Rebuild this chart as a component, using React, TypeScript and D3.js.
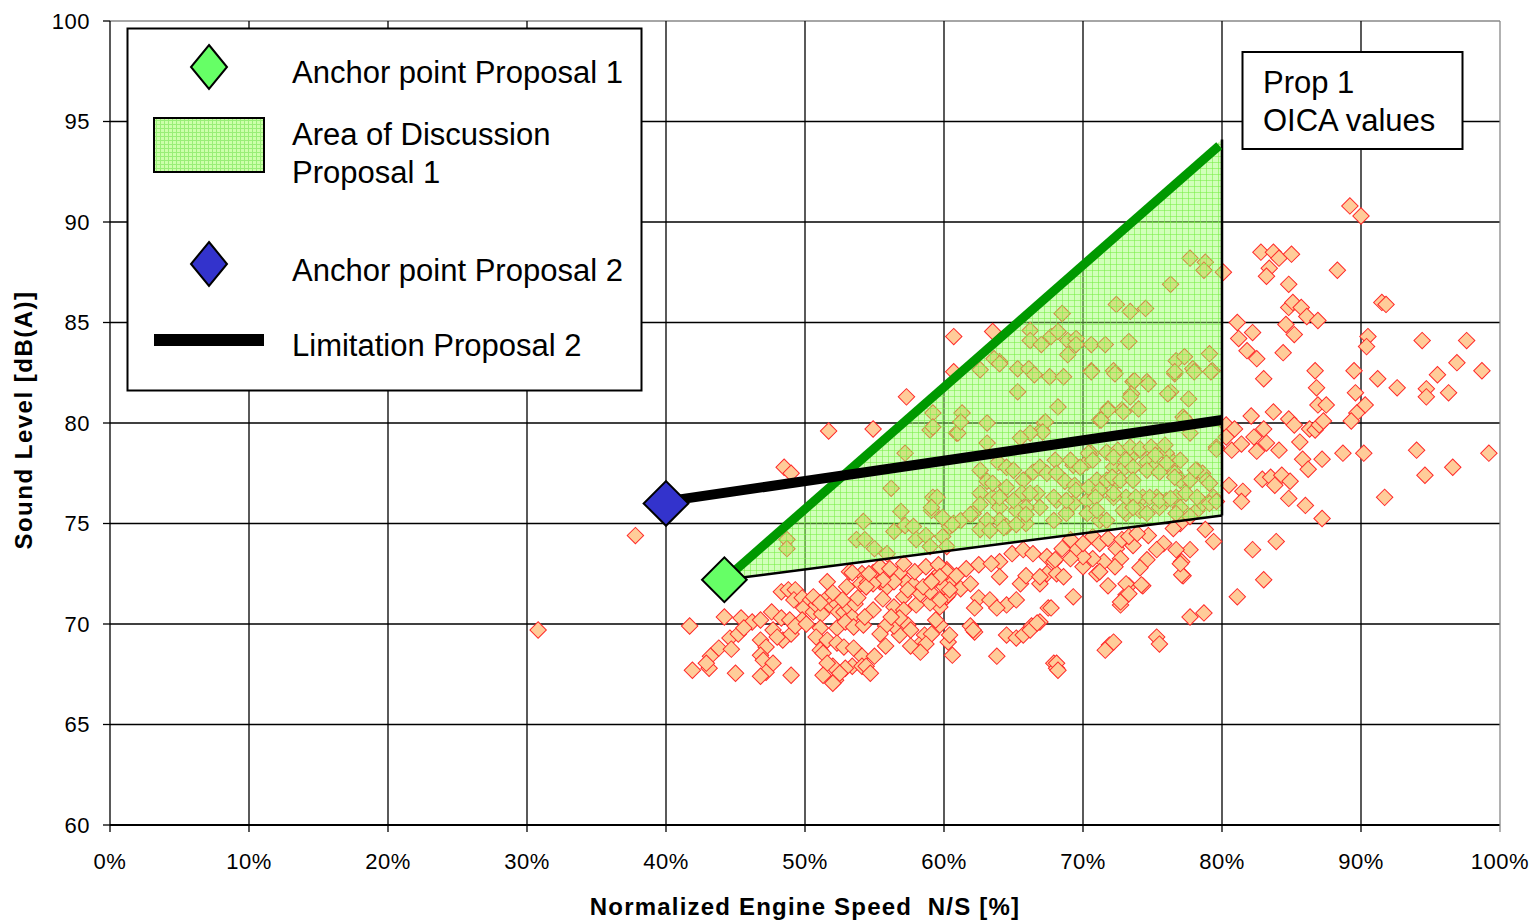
import React from "react";
import * as d3 from "d3";

type P = [number, number];

const xTicks = [0, 10, 20, 30, 40, 50, 60, 70, 80, 90, 100];
const yTicks = [60, 65, 70, 75, 80, 85, 90, 95, 100];

// Prop 1 OICA values: [N/S %, dB(A)]
const oicaLeft: P[] = [
  [30.8, 69.7], [37.8, 74.4], [41.7, 69.9], [41.9, 67.7], [43.1, 67.8], [45.0, 67.55], [44.2, 70.35], [45.4, 70.3],
  [46.2, 70.1], [46.8, 70.2], [47.6, 70.6], [48.3, 70.3], [48.9, 70.2], [44.6, 69.3], [45.2, 69.5], [45.6, 69.8],
  [43.8, 68.8], [43.2, 68.4], [42.9, 68.05], [44.7, 68.75], [46.8, 69.2], [47.2, 68.85], [46.8, 68.45], [47.0, 68.2],
  [47.7, 69.7], [48.4, 69.2], [49.0, 69.5], [48.0, 69.35], [47.7, 68.05], [47.2, 67.6], [46.8, 67.4], [49.0, 67.45],
  [48.3, 71.6], [48.8, 71.7], [49.3, 71.7], [49.2, 71.2], [49.8, 71.3], [49.9, 70.8], [50.4, 71.2], [50.6, 70.6],
  [50.8, 70.95], [51.2, 70.5], [51.6, 72.1], [51.6, 71.3], [51.8, 70.95], [52.3, 71.0], [52.4, 70.6], [52.8, 70.6],
  [53.2, 70.8], [53.4, 70.35], [53.6, 71.0], [53.8, 71.3], [53.2, 72.6], [54.1, 72.5], [54.4, 71.85], [54.0, 72.0],
  [49.8, 70.2], [49.3, 69.9], [50.1, 70.0], [51.1, 69.8], [50.8, 69.35], [51.6, 69.2], [51.1, 68.7], [51.3, 68.55],
  [52.3, 69.8], [52.9, 70.1], [53.5, 69.85], [54.2, 69.95], [52.3, 69.05], [52.8, 68.85], [53.5, 68.8], [54.1, 68.4],
  [53.4, 67.9], [52.9, 67.8], [52.0, 67.9], [51.6, 68.05], [51.3, 67.45], [52.2, 67.2], [52.5, 67.55], [54.1, 67.9],
  [52.0, 67.05], [50.6, 71.35], [51.1, 71.05], [52.0, 71.55], [52.7, 71.2], [53.0, 71.85], [53.4, 72.55], [54.5, 72.05],
  [54.9, 72.55], [55.4, 72.1], [55.9, 71.85], [56.3, 72.2], [56.8, 72.55], [57.3, 72.05], [57.8, 71.95], [58.3, 71.55],
  [58.8, 71.85], [59.2, 72.2], [59.7, 72.55], [60.2, 72.7], [60.6, 72.2], [60.2, 71.35], [59.7, 70.85], [59.0, 71.05],
  [48.5, 77.8], [49.0, 77.5], [51.7, 79.6], [54.9, 79.7], [57.3, 81.3], [60.7, 84.3], [63.5, 84.55], [60.7, 82.55],
];

const oicaMiddle: P[] = [
  [64.0, 73.1], [64.9, 73.5], [65.7, 73.7], [66.4, 73.5], [67.4, 73.35], [67.9, 73.1], [64.0, 72.35], [65.5, 72.0],
  [65.9, 72.4], [66.9, 72.0], [67.4, 72.5], [68.1, 72.5], [62.5, 71.3], [63.3, 71.2], [64.5, 70.95], [65.2, 71.2],
  [63.8, 70.8], [62.2, 70.8], [67.5, 70.8], [61.9, 69.9], [62.2, 69.6], [64.5, 69.45], [65.2, 69.3], [65.7, 69.45],
  [66.3, 69.9], [66.9, 70.1], [63.8, 68.4], [67.9, 68.05], [68.1, 67.8], [60.6, 68.45], [60.3, 69.1], [60.4, 69.45],
  [59.7, 69.95], [59.4, 70.2], [60.3, 71.45], [60.0, 71.85], [58.6, 69.45], [58.2, 68.95], [57.6, 68.9], [56.8, 69.45],
  [56.4, 69.9], [55.8, 69.9], [55.4, 69.5], [57.4, 69.95], [57.6, 69.7], [55.8, 68.9], [55.0, 68.4], [54.4, 67.9],
  [54.7, 67.55], [56.4, 70.85], [55.6, 71.25], [54.9, 70.7], [54.3, 70.35], [58.0, 70.95], [58.3, 71.5], [59.0, 71.6],
  [59.7, 71.2], [57.1, 71.35], [57.4, 71.7], [56.4, 72.1], [55.6, 72.2], [54.9, 72.0], [54.4, 71.85], [54.6, 72.5],
  [55.4, 72.85], [56.1, 72.75], [57.1, 73.0], [57.9, 72.6], [58.7, 72.85], [59.6, 72.95], [60.2, 72.6], [60.9, 72.4],
  [61.6, 72.75], [62.5, 72.95], [63.4, 73.0], [61.2, 71.75], [61.9, 72.0], [60.4, 71.7], [59.7, 72.35], [58.5, 71.85],
  [59.1, 72.1], [57.1, 70.7], [56.8, 70.3], [56.2, 70.35], [59.1, 69.5], [58.7, 69.0], [58.3, 68.6], [62.1, 69.7],
  [66.2, 69.7], [66.7, 70.05], [66.9, 72.35], [70.0, 72.85], [71.0, 72.5],
  [78.8, 74.7], [79.4, 74.1], [77.7, 73.7], [77.1, 73.1], [77.2, 72.4], [76.7, 73.7], [75.8, 74.0], [75.3, 73.7],
  [74.7, 74.4], [74.6, 73.2], [74.1, 72.8], [74.3, 71.9], [73.3, 71.9], [73.1, 71.45], [72.7, 70.95], [71.8, 71.9],
  [73.6, 73.9], [72.4, 73.75], [72.7, 73.25], [72.3, 72.85], [71.5, 73.1], [71.2, 72.6], [70.7, 73.25], [70.0, 73.35],
  [69.5, 73.75], [69.1, 73.25], [68.5, 73.75], [68.6, 72.35], [69.3, 71.35], [68.0, 73.2], [67.7, 70.8], [77.7, 70.35],
  [78.7, 70.55], [71.9, 68.95], [71.6, 68.7], [72.2, 69.1], [75.3, 69.35], [75.5, 69.0], [68.1, 68.05], [68.2, 67.7],
  [73.1, 72.0], [74.2, 71.95], [72.7, 71.1], [73.3, 71.5], [77.1, 72.45], [77.0, 73.0],
  [70.7, 74.35], [71.2, 74.0], [71.8, 74.25], [72.8, 74.2], [73.3, 74.35], [73.9, 74.5], [77.0, 75.0], [76.5, 74.75],
  [70.0, 74.0], [69.1, 74.2],
];

const oicaRight: P[] = [
  [89.2, 90.8], [90.0, 90.3], [82.8, 88.5], [83.7, 88.5], [84.1, 88.2], [85.0, 88.4], [83.4, 87.7], [83.2, 87.3],
  [80.1, 87.5], [84.8, 86.9], [88.3, 87.6], [91.5, 86.0], [91.8, 85.9], [84.8, 85.75], [85.1, 86.0], [85.7, 85.75],
  [86.1, 85.3], [86.9, 85.1], [84.6, 84.9], [85.2, 84.4], [81.1, 85.0], [81.2, 84.2], [82.2, 84.5], [81.8, 83.6],
  [82.5, 83.2], [84.4, 83.5], [83.0, 82.2], [86.7, 82.6], [86.8, 81.75], [86.9, 80.9], [87.5, 80.9], [89.5, 82.6],
  [89.6, 81.5], [90.3, 80.9], [89.7, 80.5], [89.3, 80.1], [90.5, 84.3], [90.4, 83.8], [91.2, 82.2], [92.6, 81.75],
  [94.4, 84.1], [97.6, 84.1], [96.9, 83.0], [95.5, 82.4], [98.7, 82.6], [94.7, 81.7], [94.7, 81.3], [96.3, 81.5],
  [82.1, 80.35], [83.7, 80.55], [84.8, 80.2], [85.2, 79.9], [86.3, 79.7], [86.7, 79.65], [87.0, 79.9], [87.3, 80.1],
  [80.3, 79.9], [80.9, 79.7], [80.3, 79.3], [80.7, 78.65], [81.4, 78.95], [82.3, 79.3], [82.5, 78.6], [83.0, 79.7],
  [83.2, 79.0], [84.1, 78.65], [85.6, 79.05], [85.8, 78.2], [86.2, 77.7], [87.2, 78.2], [88.7, 78.5], [90.2, 78.5],
  [94.0, 78.65], [94.6, 77.4], [96.6, 77.8], [99.2, 78.5], [91.7, 76.3], [80.5, 76.9], [81.5, 76.6], [81.4, 76.1],
  [82.9, 77.2], [83.5, 77.3], [83.8, 76.9], [84.3, 77.4], [84.9, 77.1], [84.8, 76.25], [86.0, 75.9], [87.2, 75.25],
  [81.1, 71.35], [82.2, 73.7], [83.9, 74.1], [83.0, 72.2],
];

const oicaInside: P[] = [
  [48.7, 74.2], [48.7, 73.75], [56.2, 76.75], [57.2, 78.5], [59.2, 76.3], [59.1, 75.65], [54.2, 75.1], [53.7, 74.2],
  [54.3, 74.2], [55.0, 73.75], [55.9, 73.5], [56.4, 74.6], [56.9, 75.6], [57.2, 74.9], [57.8, 74.85], [58.0, 74.2],
  [58.7, 74.4], [59.0, 73.85], [59.9, 74.35], [60.2, 73.85], [60.7, 75.0], [60.9, 79.5], [59.2, 80.5], [59.0, 79.65],
  [76.3, 86.9], [72.4, 85.9], [73.4, 85.55], [74.5, 85.7], [68.5, 85.45], [66.2, 84.6], [66.2, 84.1], [67.0, 83.9],
  [67.7, 84.3], [68.2, 84.55], [68.9, 84.1], [69.5, 84.2], [69.5, 83.9], [70.6, 83.9], [71.6, 83.9], [68.9, 83.4],
  [73.3, 84.05], [64.0, 83.05], [62.6, 82.65], [65.3, 82.7], [66.1, 82.7], [66.5, 82.4], [65.3, 81.55], [67.6, 82.3],
  [68.6, 82.3], [70.6, 82.6], [72.2, 82.6], [73.6, 82.05], [74.6, 82.05], [73.5, 81.45], [76.3, 81.55], [77.6, 81.2],
  [76.7, 83.1], [77.3, 83.3], [77.9, 82.7], [79.1, 83.45], [79.3, 82.6], [76.6, 82.45], [68.2, 80.8], [71.8, 80.7],
  [72.8, 80.65], [74.0, 80.7], [61.3, 80.5], [63.1, 80.0], [61.0, 79.5], [67.0, 79.65], [67.2, 80.0], [71.2, 80.15],
  [77.2, 80.3], [77.7, 79.5], [62.6, 77.65], [63.1, 77.1], [62.6, 76.5], [63.9, 78.05], [64.5, 77.8], [65.0, 77.65],
  [63.5, 76.3], [64.0, 75.8], [64.5, 76.8], [65.7, 77.15], [65.6, 76.5], [66.4, 77.55], [66.9, 77.8], [67.4, 77.5],
  [66.7, 76.5], [68.0, 78.15], [68.1, 77.5], [68.7, 77.1], [69.3, 77.9], [69.4, 76.9], [70.3, 78.05], [70.6, 78.5],
  [71.0, 77.15], [71.0, 76.5], [71.7, 77.15], [72.2, 77.8], [72.4, 77.1], [73.0, 77.8], [73.7, 78.5], [74.1, 78.65],
  [74.6, 78.05], [75.1, 77.8], [75.3, 78.55], [76.0, 78.5], [76.5, 78.05], [76.6, 77.5], [77.0, 77.15], [77.7, 77.15],
  [78.2, 77.65], [78.6, 77.5], [78.9, 77.15], [79.4, 76.3], [79.6, 78.8], [75.3, 76.3], [76.0, 76.15], [76.7, 76.3],
  [74.3, 76.3], [73.1, 76.3], [72.2, 76.3], [70.3, 76.15], [69.3, 76.0], [68.1, 76.15], [66.9, 75.8], [65.9, 75.8],
  [65.2, 75.65], [64.0, 75.15], [63.1, 75.15], [62.1, 75.5], [61.2, 75.15], [60.4, 74.85], [62.6, 74.7], [64.5, 74.85],
  [65.9, 75.0], [67.9, 75.15], [68.8, 75.5], [70.3, 75.5], [71.2, 75.15], [73.1, 75.5], [74.1, 75.65], [75.5, 75.8],
  [77.0, 75.8], [78.2, 75.65], [78.6, 76.0], [61.2, 80.05], [67.3, 80.05], [67.1, 79.55], [66.2, 79.5], [65.5, 79.25],
  [63.1, 79.0], [59.2, 79.8], [63.5, 77.0], [69.1, 78.15], [69.8, 77.8], [59.5, 76.3], [59.1, 75.8], [59.9, 75.3],
  [60.6, 74.95], [61.9, 75.45], [62.6, 75.95], [63.3, 74.65], [64.3, 74.8], [65.2, 74.95], [65.9, 75.45], [67.9, 76.3],
  [68.8, 76.15], [69.5, 76.65], [66.2, 76.5], [65.0, 76.15], [64.0, 76.3], [70.6, 82.55], [72.3, 82.45], [73.7, 82.1],
  [74.7, 81.95], [73.4, 81.3], [76.1, 81.45], [71.8, 80.65], [72.9, 80.55], [71.3, 80.15], [77.3, 80.2], [76.6, 82.55],
  [78.0, 82.55], [79.2, 82.55], [79.6, 78.7], [70.4, 78.5], [70.7, 78.15], [71.7, 78.55], [72.5, 78.65], [73.4, 78.8],
  [74.1, 78.7], [74.9, 78.8], [75.9, 78.9], [72.2, 78.3], [73.1, 78.15], [73.6, 77.8], [75.2, 78.4], [76.0, 78.0],
  [77.0, 78.15], [78.1, 77.65], [72.1, 77.3], [72.7, 77.15], [73.6, 77.15], [74.6, 77.65], [75.5, 77.55], [76.6, 77.3],
  [79.1, 77.0], [70.4, 76.8], [71.2, 76.65], [70.9, 76.3], [72.2, 76.5], [73.8, 76.3], [74.8, 76.3], [75.5, 76.15],
  [76.3, 76.25], [77.4, 76.5], [78.2, 76.3], [71.0, 75.65], [71.7, 75.15], [72.9, 75.65], [73.6, 75.8], [74.6, 75.5],
  [76.7, 75.5], [77.7, 75.35], [79.1, 76.0], [79.6, 76.1], [77.7, 88.2], [78.8, 88.0], [78.7, 87.6], [63.6, 83.2],
  [64.0, 82.95],
];

const anchorProposal1: P = [44.2, 72.2];
const anchorProposal2: P = [40, 76];
const areaProposal1: P[] = [[44.2, 72.2], [80, 94.1], [80, 75.4]];
const boundaryProposal1: P[] = [[44.2, 72.2], [79.8, 93.8]];
const limitationProposal2: P[] = [[40, 76.1], [80, 80.15]];

const legendItems = ["Anchor point Proposal 1", "Area of Discussion", "Proposal 1", "Anchor point Proposal 2", "Limitation Proposal 2"];

const FONT = "'Liberation Sans', Arial, Helvetica, sans-serif";

export default function App() {
  const W = 1535;
  const H = 921;
  const x = d3.scaleLinear().domain([0, 100]).range([110, 1500]);
  const y = d3.scaleLinear().domain([60, 100]).range([825, 21]);
  const line = d3.line<P>().x((d) => x(d[0])).y((d) => y(d[1]));
  const marker = d3.symbol(d3.symbolSquare, 135)() as string;
  const anchor = d3.symbol(d3.symbolSquare, 1000)() as string;
  const allPoints = [...oicaLeft, ...oicaMiddle, ...oicaRight, ...oicaInside];
  const legendDiamond = "M0,-22L18,0L0,22L-18,0Z";

  return (
    <svg width={W} height={H} style={{ position: "absolute", left: 0, top: 0, background: "#fff" }} fontFamily={FONT}>
      <defs>
        <pattern id="areaPat" patternUnits="userSpaceOnUse" width={6} height={6}>
          <rect width={6} height={6} fill="#99ff66" fillOpacity={0.45} />
          <path d="M0,0.5H6M0.5,0V6" stroke="#77ee44" strokeOpacity={0.55} strokeWidth={1} />
        </pattern>
        <pattern id="legPat" patternUnits="userSpaceOnUse" width={4} height={4}>
          <rect width={4} height={4} fill="#ccffaa" />
          <path d="M0,0.5H4M0.5,0V4" stroke="#99ee77" strokeWidth={1} />
        </pattern>
      </defs>

      {/* grid */}
      {yTicks.map((t) => (
        <line key={"h" + t} x1={x(0)} x2={x(100)} y1={y(t)} y2={y(t)}
          stroke={t === 100 ? "#888" : "#000"} strokeWidth={t === 60 ? 2 : 1.3} />
      ))}
      {xTicks.map((t) => (
        <line key={"v" + t} x1={x(t)} x2={x(t)} y1={y(100)} y2={y(60) + 7}
          stroke={t === 100 ? "#888" : "#000"} strokeWidth={1.3} />
      ))}
      {yTicks.map((t) => (
        <line key={"yt" + t} x1={x(0) - 7} x2={x(0)} y1={y(t)} y2={y(t)} stroke="#000" strokeWidth={1.3} />
      ))}

      {/* scatter */}
      <g>
        {allPoints.map((d, i) => (
          <path key={i} d={marker} transform={`translate(${x(d[0])},${y(d[1])}) rotate(45)`}
            fill="#ffcc99" stroke="#ff2a2a" strokeWidth={1} />
        ))}
      </g>

      {/* area of discussion */}
      <path d={line(areaProposal1) + "Z"} fill="url(#areaPat)" stroke="none" />
      <path d={line([areaProposal1[0], areaProposal1[2]]) as string} stroke="#000" strokeWidth={2.5} fill="none" />
      <path d={line([areaProposal1[1], areaProposal1[2]]) as string} stroke="#000" strokeWidth={2.5} fill="none" />
      <path d={line(boundaryProposal1) as string} stroke="#009900" strokeWidth={9} fill="none" />
      <path d={line(limitationProposal2) as string} stroke="#000" strokeWidth={10} fill="none" />

      <path d={anchor} transform={`translate(${x(anchorProposal2[0])},${y(anchorProposal2[1])}) rotate(45)`}
        fill="#3333cc" stroke="#000" strokeWidth={2} />
      <path d={anchor} transform={`translate(${x(anchorProposal1[0])},${y(anchorProposal1[1])}) rotate(45)`}
        fill="#66ff66" stroke="#000" strokeWidth={2} />

      {/* axis labels */}
      {yTicks.map((t) => (
        <text key={"yl" + t} x={90} y={y(t)} textAnchor="end" dominantBaseline="central" fontSize={22} letterSpacing={0.5} fill="#000">{t}</text>
      ))}
      {xTicks.map((t) => (
        <text key={"xl" + t} x={x(t)} y={869} textAnchor="middle" fontSize={22} letterSpacing={0.5} fill="#000">{t}%</text>
      ))}
      <text x={805} y={915} textAnchor="middle" fontSize={24} fontWeight="bold" letterSpacing={1.2} fill="#000"
        style={{ whiteSpace: "pre" }}>{"Normalized Engine Speed  N/S [%]"}</text>
      <text transform="translate(23,420) rotate(-90)" textAnchor="middle" dominantBaseline="central" fontSize={24}
        fontWeight="bold" letterSpacing={1.5} fill="#000">Sound Level [dB(A)]</text>

      {/* legend */}
      <rect x={127.5} y={28.5} width={514} height={362} fill="#fff" stroke="#000" strokeWidth={2} />
      <path d={legendDiamond} transform="translate(209,67)" fill="#66ff66" stroke="#000" strokeWidth={2} />
      <rect x={154} y={118} width={110} height={54} fill="url(#legPat)" stroke="#000" strokeWidth={2} />
      <path d={legendDiamond} transform="translate(209,264)" fill="#3333cc" stroke="#000" strokeWidth={2} />
      <rect x={154} y={334} width={110} height={12} fill="#000" />
      <g fontSize={31} fill="#000">
        <text x={292} y={83}>{legendItems[0]}</text>
        <text x={292} y={145}>{legendItems[1]}</text>
        <text x={292} y={183}>{legendItems[2]}</text>
        <text x={292} y={281}>{legendItems[3]}</text>
        <text x={292} y={356}>{legendItems[4]}</text>
      </g>

      {/* Prop 1 box */}
      <rect x={1242.5} y={52} width={220} height={97} fill="#fff" stroke="#000" strokeWidth={2} />
      <g fontSize={31} fill="#000">
        <text x={1263} y={93}>Prop 1</text>
        <text x={1263} y={131}>OICA values</text>
      </g>
    </svg>
  );
}
